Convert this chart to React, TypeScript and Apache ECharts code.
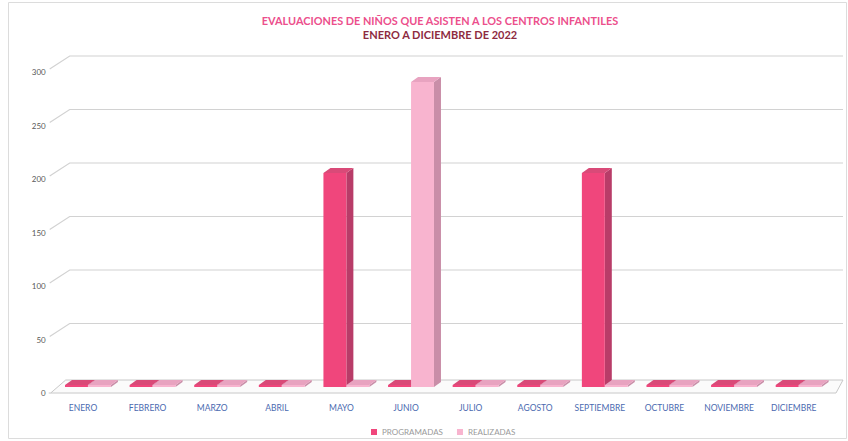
import React, { useEffect, useRef } from "react";
import * as echarts from "echarts";

const months = [
  "ENERO", "FEBRERO", "MARZO", "ABRIL", "MAYO", "JUNIO",
  "JULIO", "AGOSTO", "SEPTIEMBRE", "OCTUBRE", "NOVIEMBRE", "DICIEMBRE",
];
const programadas = [0, 0, 0, 0, 200, 0, 0, 0, 200, 0, 0, 0];
const realizadas = [0, 0, 0, 0, 0, 285, 0, 0, 0, 0, 0, 0];
const yTicks = [0, 50, 100, 150, 200, 250, 300];
const titleLine1 = "EVALUACIONES DE NIÑOS QUE ASISTEN A LOS CENTROS INFANTILES";
const titleLine2 = "ENERO A DICIEMBRE DE 2022";

const FONT = "Lato, 'Open Sans', sans-serif";

function barRenderer(offset: number, colors: { front: string; side: string; top: string }) {
  return (params: any, api: any) => {
    const i = api.value(0);
    const v = api.value(1);
    const p = api.coord([i, v]);
    const yBase = api.coord([i, 0])[1];
    const bw = api.size([1, 0])[0];
    const w = bw * 0.355;
    const cx = p[0];
    const x0 = cx + offset * (bw / 64.6);
    const yTop = Math.min(p[1], yBase - 2);
    const dx = 7;
    const dy = 5;
    return {
      type: "group",
      children: [
        {
          type: "polygon",
          shape: { points: [[x0 + w, yTop], [x0 + w + dx, yTop - dy], [x0 + w + dx, yBase - dy], [x0 + w, yBase]] },
          style: { fill: colors.side },
        },
        {
          type: "polygon",
          shape: { points: [[x0, yTop], [x0 + dx, yTop - dy], [x0 + w + dx, yTop - dy], [x0 + w, yTop]] },
          style: { fill: colors.top },
        },
        {
          type: "rect",
          shape: { x: x0, y: yTop, width: w, height: yBase - yTop },
          style: { fill: colors.front },
        },
      ],
    };
  };
}

function gridRenderer(params: any, api: any) {
  const v = api.value(1);
  const p = api.coord([0, v]);
  const bw = api.size([1, 0])[0];
  const left = p[0] - bw / 2;
  const right = left + bw * months.length;
  const y = p[1];
  if (v === 0) {
    return {
      type: "group",
      children: [
        {
          type: "polygon",
          shape: { points: [[left, y + 6], [left + 15, y - 7], [right + 17, y - 7], [right + 10, y + 6]] },
          style: { fill: "#fbfbfb", stroke: "#c8c8c8", lineWidth: 1 },
        },
        {
          type: "line",
          shape: { x1: left - 2, y1: y + 6, x2: left, y2: y + 6 },
          style: { stroke: "#c8c8c8", lineWidth: 1 },
        },
      ],
    };
  }
  return {
    type: "polyline",
    shape: { points: [[left - 1, y + 3], [left + 19, y - 10], [right + 17, y - 10]] },
    style: { stroke: "#d2d2d2", lineWidth: 1.2, fill: null },
  };
}

export default function App() {
  const ref = useRef<HTMLDivElement>(null);
  useEffect(() => {
    if (!ref.current) return;
    const chart = echarts.init(ref.current, null, { renderer: "svg" });
    chart.setOption({
      animation: false,
      backgroundColor: "#ffffff",
      graphic: [
        {
          type: "rect",
          silent: true,
          z: -10,
          shape: { x: 8.5, y: 2.5, width: 838, height: 436 },
          style: { fill: "none", stroke: "#dcdcdc", lineWidth: 1 },
        },
        {
          type: "text",
          x: 440,
          y: 20,
          style: {
            text: titleLine1,
            textAlign: "center",
            textVerticalAlign: "middle",
            fill: "#ec4f8c",
            font: `bold 10.9px ${FONT}`,
          },
        },
        {
          type: "text",
          x: 440,
          y: 34,
          style: {
            text: titleLine2,
            textAlign: "center",
            textVerticalAlign: "middle",
            fill: "#8e2b3f",
            font: `bold 11px ${FONT}`,
          },
        },
      ],
      legend: {
        top: 423,
        left: 366,
        icon: "rect",
        itemWidth: 6,
        itemHeight: 6,
        itemGap: 14,
        textStyle: { color: "#9a9a9a", fontSize: 8, fontFamily: FONT },
        data: ["PROGRAMADAS", "REALIZADAS"],
      },
      grid: { left: 50.7, right: 22, top: 66, bottom: 54, containLabel: false },
      xAxis: {
        type: "category",
        data: months,
        axisLine: { show: false },
        axisTick: { show: false },
        axisLabel: { color: "#4a6ab0", fontSize: 8.5, fontFamily: FONT, margin: 16, interval: 0 },
        splitLine: { show: false },
      },
      yAxis: {
        type: "value",
        min: 0,
        max: 300,
        interval: 50,
        axisLine: { show: false },
        axisTick: { show: false },
        splitLine: { show: false },
        axisLabel: {
          color: "#595959",
          fontSize: 8,
          fontFamily: FONT,
          margin: 5,
          verticalAlign: "top",
          padding: [2, 0, 0, 0],
        },
      },
      series: [
        {
          name: "grid",
          type: "custom",
          renderItem: gridRenderer,
          data: yTicks.map((v) => [0, v]),
          clip: false,
          silent: true,
          z: 1,
          legendHoverLink: false,
        },
        {
          name: "PROGRAMADAS",
          type: "custom",
          renderItem: barRenderer(-18, { front: "#f0467c", side: "#b83c68", top: "#d94a78" }),
          data: programadas.map((v, i) => [i, v]),
          itemStyle: { color: "#f0467c" },
          clip: false,
          z: 3,
        },
        {
          name: "REALIZADAS",
          type: "custom",
          renderItem: barRenderer(5, { front: "#f8b4cf", side: "#c98ea8", top: "#e8a3c0" }),
          data: realizadas.map((v, i) => [i, v]),
          itemStyle: { color: "#f8b4cf" },
          clip: false,
          z: 4,
        },
      ],
    });
    return () => chart.dispose();
  }, []);
  return <div ref={ref} style={{ width: 848, height: 441, position: "fixed", left: 0, top: 0 }} />;
}
